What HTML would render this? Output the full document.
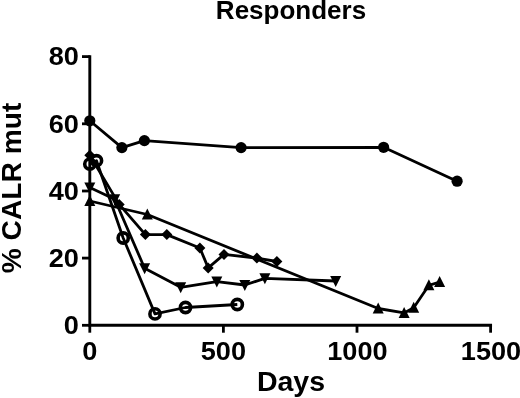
<!DOCTYPE html>
<html><head><meta charset="utf-8"><title>Responders</title>
<style>
html,body{margin:0;padding:0;background:#fff;}
svg{display:block;}
text{font-family:"Liberation Sans",Arial,sans-serif;font-weight:bold;fill:#000;}
.t{font-size:26.6px;}
.ti{font-size:26px;}
.xl{font-size:28.5px;}
.yl{font-size:28.2px;}
</style></head><body>
<svg width="520" height="398" viewBox="0 0 520 398">
<rect width="520" height="398" fill="#fff"/>
<path d="M89.8,56.6 V325.3 H490.6" fill="none" stroke="#000" stroke-width="2.9" stroke-linecap="square"/>
<line x1="82.0" x2="89.8" y1="325.3" y2="325.3" stroke="#000" stroke-width="2.8"/>
<text transform="translate(78.9,334.0) scale(1.02,1)" text-anchor="end" class="t">0</text>
<line x1="82.0" x2="89.8" y1="258.1" y2="258.1" stroke="#000" stroke-width="2.8"/>
<text transform="translate(78.9,266.8) scale(1.02,1)" text-anchor="end" class="t">20</text>
<line x1="82.0" x2="89.8" y1="191.0" y2="191.0" stroke="#000" stroke-width="2.8"/>
<text transform="translate(78.9,199.7) scale(1.02,1)" text-anchor="end" class="t">40</text>
<line x1="82.0" x2="89.8" y1="123.8" y2="123.8" stroke="#000" stroke-width="2.8"/>
<text transform="translate(78.9,132.5) scale(1.02,1)" text-anchor="end" class="t">60</text>
<line x1="82.0" x2="89.8" y1="56.6" y2="56.6" stroke="#000" stroke-width="2.8"/>
<text transform="translate(78.9,65.3) scale(1.02,1)" text-anchor="end" class="t">80</text>
<line x1="89.8" x2="89.8" y1="325.3" y2="332.7" stroke="#000" stroke-width="2.8"/>
<text transform="translate(89.8,359.8) scale(1.02,1)" text-anchor="middle" class="t">0</text>
<line x1="223.4" x2="223.4" y1="325.3" y2="332.7" stroke="#000" stroke-width="2.8"/>
<text transform="translate(223.4,359.8) scale(1.02,1)" text-anchor="middle" class="t">500</text>
<line x1="357.0" x2="357.0" y1="325.3" y2="332.7" stroke="#000" stroke-width="2.8"/>
<text transform="translate(357.4,359.8) scale(1.02,1)" text-anchor="middle" class="t">1000</text>
<line x1="490.6" x2="490.6" y1="325.3" y2="332.7" stroke="#000" stroke-width="2.8"/>
<text transform="translate(491.0,359.8) scale(1.02,1)" text-anchor="middle" class="t">1500</text>
<text x="291" y="18.9" text-anchor="middle" class="ti">Responders</text>
<text x="291" y="390.8" text-anchor="middle" class="xl">Days</text>
<text transform="translate(20.8,188.0) rotate(-90)" text-anchor="middle" class="yl">% CALR mut</text>
<polyline fill="none" stroke="#000" stroke-width="2.8" stroke-linejoin="round" points="89.8,120.8 121.9,147.6 144.4,140.6 241.1,147.6 383.6,147.3 457.1,181.2"/>
<circle cx="89.8" cy="120.8" r="5.6"/>
<circle cx="121.9" cy="147.6" r="5.6"/>
<circle cx="144.4" cy="140.6" r="5.6"/>
<circle cx="241.1" cy="147.6" r="5.6"/>
<circle cx="383.6" cy="147.3" r="5.6"/>
<circle cx="457.1" cy="181.2" r="5.6"/>
<polyline fill="none" stroke="#000" stroke-width="2.8" stroke-linejoin="round" points="89.8,201.0 147.3,214.5 378.2,308.5 404.1,312.9 413.7,307.7 428.9,285.3 439.6,282.0"/>
<polygon points="89.8,195.0 95.3,206.0 84.3,206.0"/>
<polygon points="147.3,208.5 152.8,219.5 141.8,219.5"/>
<polygon points="378.2,302.5 383.7,313.5 372.7,313.5"/>
<polygon points="404.1,306.9 409.6,317.9 398.6,317.9"/>
<polygon points="413.7,301.7 419.2,312.7 408.2,312.7"/>
<polygon points="428.9,279.3 434.4,290.3 423.4,290.3"/>
<polygon points="439.6,276.0 445.1,287.0 434.1,287.0"/>
<polyline fill="none" stroke="#000" stroke-width="2.8" stroke-linejoin="round" points="89.8,155.3 119.2,204.4 145.4,234.6 166.8,234.6 199.9,248.0 208.2,267.9 224.0,254.4 256.9,258.1 276.9,261.5"/>
<polygon points="89.8,149.8 95.3,155.3 89.8,160.8 84.3,155.3"/>
<polygon points="119.2,198.9 124.7,204.4 119.2,209.9 113.7,204.4"/>
<polygon points="145.4,229.1 150.9,234.6 145.4,240.1 139.9,234.6"/>
<polygon points="166.8,229.1 172.3,234.6 166.8,240.1 161.3,234.6"/>
<polygon points="199.9,242.5 205.4,248.0 199.9,253.5 194.4,248.0"/>
<polygon points="208.2,262.4 213.7,267.9 208.2,273.4 202.7,267.9"/>
<polygon points="224.0,248.9 229.5,254.4 224.0,259.9 218.5,254.4"/>
<polygon points="256.9,252.6 262.4,258.1 256.9,263.6 251.4,258.1"/>
<polygon points="276.9,256.0 282.4,261.5 276.9,267.0 271.4,261.5"/>
<polyline fill="none" stroke="#000" stroke-width="2.8" stroke-linejoin="round" points="89.8,187.6 114.7,199.3 144.6,268.2 180.7,287.3 216.8,281.6 244.8,285.0 264.9,278.3 335.7,281.0"/>
<polygon points="89.8,193.6 95.3,182.6 84.3,182.6"/>
<polygon points="114.7,205.3 120.2,194.3 109.2,194.3"/>
<polygon points="144.6,274.2 150.1,263.2 139.1,263.2"/>
<polygon points="180.7,293.3 186.2,282.3 175.2,282.3"/>
<polygon points="216.8,287.6 222.3,276.6 211.3,276.6"/>
<polygon points="244.8,291.0 250.3,280.0 239.3,280.0"/>
<polygon points="264.9,284.3 270.4,273.3 259.4,273.3"/>
<polygon points="335.7,287.0 341.2,276.0 330.2,276.0"/>
<polyline fill="none" stroke="#000" stroke-width="2.8" stroke-linejoin="round" points="89.8,164.1 96.5,160.7 123.2,238.0 155.0,313.9 185.5,307.5 237.3,304.5"/>
<circle cx="89.8" cy="164.1" r="5.1" fill="none" stroke="#000" stroke-width="3.6"/>
<circle cx="96.5" cy="160.7" r="5.1" fill="none" stroke="#000" stroke-width="3.6"/>
<circle cx="123.2" cy="238.0" r="5.1" fill="none" stroke="#000" stroke-width="3.6"/>
<circle cx="155.0" cy="313.9" r="5.1" fill="none" stroke="#000" stroke-width="3.6"/>
<circle cx="185.5" cy="307.5" r="5.1" fill="none" stroke="#000" stroke-width="3.6"/>
<circle cx="237.3" cy="304.5" r="5.1" fill="none" stroke="#000" stroke-width="3.6"/>
</svg>
</body></html>
